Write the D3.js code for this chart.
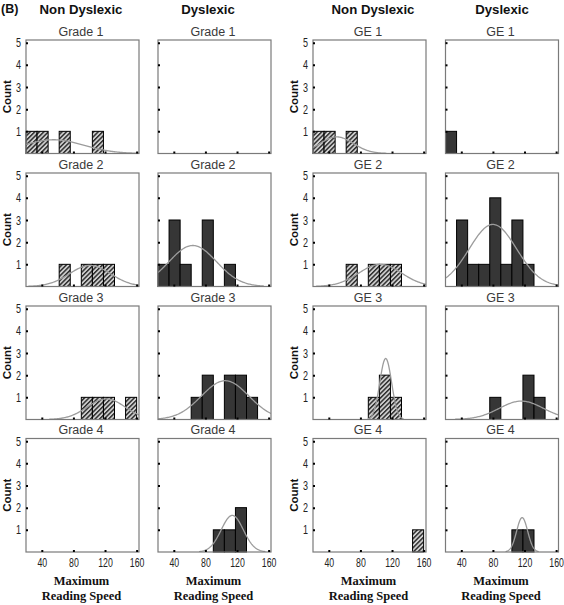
<!DOCTYPE html>
<html><head><meta charset="utf-8">
<script src="https://cdn.jsdelivr.net/npm/d3@7"></script>
<style>
html,body{margin:0;padding:0;background:#fff;}
svg{display:block;}
</style></head>
<body>
<script>
// ---------- DATA ----------
const binEdges = [20, 34, 48, 62, 76, 90, 104, 118, 132, 146, 160];
const xTicks = [40, 80, 120, 160];
const yTicks = [1, 2, 3, 4, 5];
const columnHeaders = ["Non Dyslexic", "Dyslexic", "Non Dyslexic", "Dyslexic"];
const gradeTitles = ["Grade 1", "Grade 2", "Grade 3", "Grade 4"];
const geTitles = ["GE 1", "GE 2", "GE 3", "GE 4"];

// counts per bin (rows: level 1..4)
const gradeNonDyslexic = [
  [1,1,0,1,0,0,1,0,0,0],
  [0,0,0,1,0,1,1,1,0,0],
  [0,0,0,0,0,1,1,1,0,1],
  [0,0,0,0,0,0,0,0,0,0]
];
const gradeDyslexic = [
  [0,0,0,0,0,0,0,0,0,0],
  [1,3,1,0,3,0,1,0,0,0],
  [0,0,0,1,2,0,2,2,1,0],
  [0,0,0,0,0,1,1,2,0,0]
];
const geNonDyslexic = [
  [1,1,0,1,0,0,0,0,0,0],
  [0,0,0,1,0,1,1,1,0,0],
  [0,0,0,0,0,1,2,1,0,0],
  [0,0,0,0,0,0,0,0,0,1]
];
const geDyslexic = [
  [1,0,0,0,0,0,0,0,0,0],
  [0,3,1,1,4,1,3,1,0,0],
  [0,0,0,0,1,0,0,2,1,0],
  [0,0,0,0,0,0,1,1,0,0]
];
// fitted normal curves: [mean, sd, peak count]
const gradeNonDyslexicFit = [[55,38,0.62],[101,26,0.95],[121.5,24,0.93],null];
const gradeDyslexicFit    = [null,[64,30,1.85],[105,30,1.75],[114,14,1.65]];
const geNonDyslexicFit    = [[50,21,0.75],[105,27,1.0],[112,7.5,2.75],null];
const geDyslexicFit       = [null,[80,30,2.8],[116,28,0.83],[117,7,1.55]];

// ---------- LAYOUT ----------
const W = 564, H = 605;
const colLeft = [26, 158, 313, 445.5];
const rowTop = [40, 173, 306, 438.5];
const pw = 113, ph = 113.5;
const headerX = [81, 208, 373, 502];

const columns = [
  {counts: gradeNonDyslexic, fit: gradeNonDyslexicFit, titles: gradeTitles, hatched: true, labels: true},
  {counts: gradeDyslexic, fit: gradeDyslexicFit, titles: gradeTitles, hatched: false, labels: false},
  {counts: geNonDyslexic, fit: geNonDyslexicFit, titles: geTitles, hatched: true, labels: true},
  {counts: geDyslexic, fit: geDyslexicFit, titles: geTitles, hatched: false, labels: false}
];

const svg = d3.select("body").append("svg").attr("width", W).attr("height", H);
const defs = svg.append("defs");
const pat = defs.append("pattern").attr("id","hatch").attr("patternUnits","userSpaceOnUse")
  .attr("width",3.2).attr("height",3.2).attr("patternTransform","rotate(45)");
pat.append("rect").attr("width",3.2).attr("height",3.2).attr("fill","#cfcfcf");
pat.append("line").attr("x1",0.7).attr("y1",0).attr("x2",0.7).attr("y2",3.2)
  .attr("stroke","#2b2b2b").attr("stroke-width",1.5);

const x = d3.scaleLinear().domain([20, 163]).range([0, pw]);
const y = d3.scaleLinear().domain([0, 5.12]).range([ph, 0]);

svg.append("text").attr("x",1).attr("y",13).text("(B)")
  .attr("font-family","Liberation Sans, Arial, sans-serif").attr("font-weight","bold").attr("font-size",12.5).attr("fill","#111");

columnHeaders.forEach((h,i)=>{
  svg.append("text").attr("x",headerX[i]).attr("y",13.5).attr("text-anchor","middle").text(h)
    .attr("font-family","Liberation Sans, Arial, sans-serif").attr("font-weight","bold").attr("font-size",13.2).attr("fill","#111");
});

const line = d3.line().x(d=>x(d[0])).y(d=>y(d[1]));

columns.forEach((col, ci)=>{
  col.counts.forEach((counts, ri)=>{
    const g = svg.append("g").attr("transform",`translate(${colLeft[ci]},${rowTop[ri]})`);
    const cid = `clip${ci}_${ri}`;
    defs.append("clipPath").attr("id",cid).append("rect").attr("width",pw).attr("height",ph);

    // title
    svg.append("text").attr("x",colLeft[ci]+pw/2-1.5).attr("y",rowTop[ri]-4.5).attr("text-anchor","middle")
      .text(col.titles[ri]).attr("font-family","Liberation Sans, Arial, sans-serif").attr("font-size",12.5).attr("fill","#3a3a3a");

    // bars
    const bins = counts.map((c,k)=>({x0:binEdges[k], x1:binEdges[k+1], c})).filter(b=>b.c>0);
    g.selectAll("rect.bar").data(bins).enter().append("rect").attr("class","bar")
      .attr("x",b=>x(b.x0)).attr("width",b=>x(b.x1)-x(b.x0))
      .attr("y",b=>y(b.c)).attr("height",b=>y(0)-y(b.c))
      .attr("fill", col.hatched ? "url(#hatch)" : "#363636")
      .attr("stroke","#000").attr("stroke-width",1);

    // normal curve
    const f = col.fit[ri];
    if (f) {
      const [m,s,pk] = f;
      const lo = Math.max(20, m-3*s), hi = Math.min(163, m+3*s);
      const pts = d3.range(lo, hi+0.001, (hi-lo)/120).map(v=>[v, pk*Math.exp(-0.5*((v-m)/s)**2)]);
      g.append("path").attr("d",line(pts)).attr("fill","none").attr("stroke","#9c9c9c")
        .attr("stroke-width",1.3).attr("clip-path",`url(#${cid})`);
    }

    // frame
    g.append("rect").attr("width",pw).attr("height",ph).attr("fill","none")
      .attr("stroke","#7a7a7a").attr("stroke-width",1.2);

    // y axis
    const ya = g.append("g").call(d3.axisLeft(y).tickValues(yTicks).tickSize(-2).tickFormat(col.labels ? d3.format("d") : ""));
    ya.select(".domain").remove();
    ya.selectAll("line").attr("stroke","#000").attr("stroke-width",2);
    ya.selectAll("text").attr("x",0).attr("transform","translate(-5,0) scale(0.72,1)")
      .attr("font-family","Liberation Sans, Arial, sans-serif").attr("font-size",12.5).attr("fill","#222");

    // x axis
    const xa = g.append("g").attr("transform",`translate(0,${ph})`)
      .call(d3.axisBottom(x).tickValues(xTicks).tickSize(-2).tickFormat(ri===3 ? d3.format("d") : ""));
    xa.select(".domain").remove();
    xa.selectAll("line").attr("stroke","#000").attr("stroke-width",2);
    xa.selectAll("text").attr("y",0).attr("dy",0).attr("transform","translate(0,14.5) scale(0.65,1)")
      .attr("font-family","Liberation Sans, Arial, sans-serif").attr("font-size",13.5).attr("fill","#222");

    // y title
    if (col.labels) {
      svg.append("text").attr("transform",`translate(${colLeft[ci]-19.5},${rowTop[ri]+ph/2}) rotate(-90)`)
        .attr("text-anchor","middle").attr("dy","0.35em").text("Count")
        .attr("font-family","Liberation Sans, Arial, sans-serif").attr("font-weight","bold").attr("font-size",11.5).attr("fill","#111");
    }
    // x title
    if (ri===3) {
      const cx = colLeft[ci]+pw/2-1;
      svg.append("text").attr("x",cx).attr("y",585).attr("text-anchor","middle").text("Maximum")
        .attr("font-family","Liberation Serif, Times New Roman, serif").attr("font-weight","bold").attr("font-size",12.5).attr("fill","#111");
      svg.append("text").attr("x",cx).attr("y",600).attr("text-anchor","middle").text("Reading Speed")
        .attr("font-family","Liberation Serif, Times New Roman, serif").attr("font-weight","bold").attr("font-size",12.5).attr("fill","#111");
    }
  });
});
</script>
</body></html>
